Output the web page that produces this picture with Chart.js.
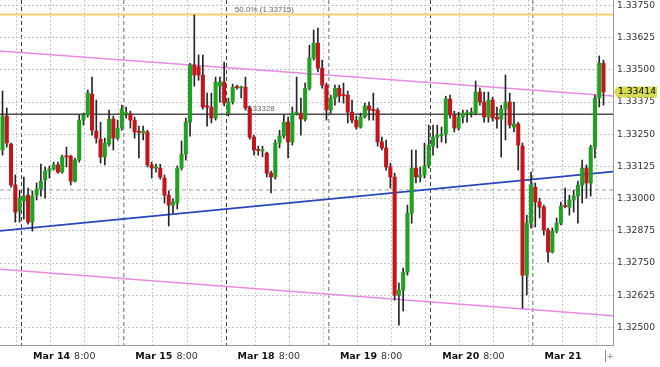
<!DOCTYPE html>
<html>
<head>
<meta charset="utf-8">
<script src="https://cdn.jsdelivr.net/npm/chart.js@4.4.1/dist/chart.umd.min.js"></script>
<style>
  html, body { margin: 0; padding: 0; background: #fff; }
</style>
</head>
<body>
<canvas id="chart" width="660" height="367"></canvas>
<script>
// hourly candles, last hours of Mar 13 up to Mar 21
const opens = [
  1.33189, 1.33321, 1.33212, 1.33053, 1.32952, 1.32991, 1.33014, 1.32909, 1.33014, 1.33037,
  1.33072, 1.33107, 1.33115, 1.33131, 1.33103, 1.33164, 1.33165, 1.33068, 1.33150, 1.33305,
  1.33325, 1.33406, 1.33263, 1.33231, 1.33162, 1.33212, 1.33309, 1.33235, 1.33274, 1.33329,
  1.33329, 1.33305, 1.33259, 1.33255, 1.33259, 1.33131, 1.33119, 1.33119, 1.33080, 1.33014,
  1.32975, 1.32983, 1.33119, 1.33173, 1.33297, 1.33519, 1.33511, 1.33480, 1.33360, 1.33356,
  1.33313, 1.33437, 1.33453, 1.33332, 1.33375, 1.33433, 1.33429, 1.33433, 1.33352, 1.33239,
  1.33189, 1.33185, 1.33177, 1.33099, 1.33084, 1.33216, 1.33243, 1.33297, 1.33220, 1.33332,
  1.33332, 1.33309, 1.33429, 1.33546, 1.33604, 1.33507, 1.33441, 1.33344, 1.33391, 1.33429,
  1.33402, 1.33402, 1.33336, 1.33305, 1.33278, 1.33317, 1.33360, 1.33344, 1.33344, 1.33220,
  1.33197, 1.33123, 1.33084, 1.32626, 1.32645, 1.32715, 1.32944, 1.33119, 1.33084, 1.33092,
  1.33127, 1.33204, 1.33239, 1.33245, 1.33251, 1.33387, 1.33325, 1.33274, 1.33317, 1.33329,
  1.33332, 1.33332, 1.33414, 1.33375, 1.33317, 1.33383, 1.33317, 1.33309, 1.33348, 1.33375,
  1.33278, 1.33290, 1.33204, 1.32703, 1.32905, 1.33045, 1.32987, 1.32967, 1.32878, 1.32793,
  1.32874, 1.32905, 1.32971, 1.32967, 1.32995, 1.33010, 1.33053, 1.33119, 1.33061, 1.33200,
  1.33391, 1.33526
];
const highs = [
  1.33418, 1.33352, 1.33216, 1.33092, 1.33033, 1.33084, 1.33041, 1.33030, 1.33061, 1.33134,
  1.33123, 1.33127, 1.33142, 1.33142, 1.33169, 1.33200, 1.33169, 1.33158, 1.33325, 1.33332,
  1.33422, 1.33472, 1.33383, 1.33297, 1.33235, 1.33344, 1.33321, 1.33305, 1.33363, 1.33356,
  1.33340, 1.33317, 1.33282, 1.33282, 1.33266, 1.33142, 1.33134, 1.33134, 1.33092, 1.33030,
  1.32999, 1.33127, 1.33224, 1.33313, 1.33526, 1.33713, 1.33558, 1.33558, 1.33410, 1.33410,
  1.33472, 1.33472, 1.33530, 1.33391, 1.33445, 1.33441, 1.33437, 1.33472, 1.33360, 1.33247,
  1.33204, 1.33204, 1.33181, 1.33107, 1.33228, 1.33266, 1.33325, 1.33317, 1.33356, 1.33472,
  1.33391, 1.33449, 1.33596, 1.33655, 1.33662, 1.33538, 1.33449, 1.33402, 1.33441, 1.33441,
  1.33449, 1.33418, 1.33383, 1.33321, 1.33332, 1.33371, 1.33375, 1.33410, 1.33352, 1.33239,
  1.33228, 1.33138, 1.33099, 1.32672, 1.32731, 1.32975, 1.33189, 1.33189, 1.33123, 1.33216,
  1.33286, 1.33286, 1.33286, 1.33278, 1.33398, 1.33402, 1.33340, 1.33336, 1.33344, 1.33344,
  1.33352, 1.33457, 1.33429, 1.33414, 1.33414, 1.33394, 1.33356, 1.33363, 1.33480, 1.33410,
  1.33375, 1.33297, 1.33216, 1.32936, 1.33103, 1.33061, 1.33002, 1.32975, 1.32886, 1.32886,
  1.32925, 1.32987, 1.33041, 1.33014, 1.33033, 1.33068, 1.33150, 1.33131, 1.33208, 1.33402,
  1.33554, 1.33538
];
const lows = [
  1.33169, 1.33200, 1.33045, 1.32909, 1.32909, 1.32921, 1.32901, 1.32874, 1.32995, 1.33010,
  1.33002, 1.33080, 1.33111, 1.33099, 1.33099, 1.33123, 1.33053, 1.33065, 1.33142, 1.33286,
  1.33317, 1.33247, 1.33216, 1.33138, 1.33131, 1.33204, 1.33189, 1.33228, 1.33266, 1.33313,
  1.33274, 1.33235, 1.33158, 1.33228, 1.33123, 1.33080, 1.33103, 1.33076, 1.32983, 1.32894,
  1.32944, 1.32960, 1.33111, 1.33150, 1.33243, 1.33437, 1.33460, 1.33348, 1.33282, 1.33294,
  1.33305, 1.33375, 1.33360, 1.33321, 1.33367, 1.33425, 1.33391, 1.33344, 1.33231, 1.33169,
  1.33169, 1.33162, 1.33084, 1.33022, 1.33076, 1.33197, 1.33235, 1.33158, 1.33208, 1.33325,
  1.33247, 1.33301, 1.33422, 1.33538, 1.33492, 1.33429, 1.33305, 1.33332, 1.33363, 1.33375,
  1.33371, 1.33294, 1.33294, 1.33270, 1.33274, 1.33313, 1.33305, 1.33305, 1.33204, 1.33189,
  1.33111, 1.33041, 1.32606, 1.32509, 1.32564, 1.32703, 1.32905, 1.33061, 1.33065, 1.33080,
  1.33119, 1.33169, 1.33197, 1.33220, 1.33216, 1.33313, 1.33259, 1.33266, 1.33294, 1.33297,
  1.33317, 1.33325, 1.33363, 1.33297, 1.33297, 1.33301, 1.33274, 1.33162, 1.33228, 1.33274,
  1.33259, 1.33111, 1.32575, 1.32626, 1.32886, 1.32890, 1.32925, 1.32859, 1.32754, 1.32789,
  1.32867, 1.32898, 1.32964, 1.32936, 1.32948, 1.32905, 1.32983, 1.33002, 1.33010, 1.33158,
  1.33356, 1.33363
];
const closes = [
  1.33321, 1.33216, 1.33053, 1.32948, 1.33002, 1.33010, 1.32909, 1.33010, 1.33037, 1.33068,
  1.33107, 1.33115, 1.33131, 1.33103, 1.33162, 1.33162, 1.33068, 1.33150, 1.33305, 1.33325,
  1.33410, 1.33266, 1.33235, 1.33162, 1.33216, 1.33309, 1.33235, 1.33274, 1.33348, 1.33332,
  1.33305, 1.33259, 1.33257, 1.33263, 1.33131, 1.33119, 1.33121, 1.33084, 1.33014, 1.32975,
  1.32987, 1.33119, 1.33173, 1.33297, 1.33519, 1.33480, 1.33480, 1.33356, 1.33356, 1.33313,
  1.33453, 1.33453, 1.33371, 1.33375, 1.33433, 1.33431, 1.33433, 1.33352, 1.33239, 1.33189,
  1.33187, 1.33189, 1.33099, 1.33084, 1.33216, 1.33243, 1.33297, 1.33220, 1.33332, 1.33334,
  1.33309, 1.33429, 1.33546, 1.33604, 1.33507, 1.33441, 1.33344, 1.33391, 1.33429, 1.33398,
  1.33400, 1.33336, 1.33305, 1.33278, 1.33317, 1.33360, 1.33344, 1.33342, 1.33220, 1.33197,
  1.33123, 1.33084, 1.32626, 1.32645, 1.32715, 1.32944, 1.33119, 1.33084, 1.33092, 1.33127,
  1.33208, 1.33239, 1.33247, 1.33247, 1.33387, 1.33325, 1.33274, 1.33317, 1.33332, 1.33332,
  1.33336, 1.33414, 1.33375, 1.33317, 1.33383, 1.33313, 1.33309, 1.33348, 1.33375, 1.33286,
  1.33290, 1.33208, 1.32703, 1.32905, 1.33053, 1.32987, 1.32967, 1.32878, 1.32793, 1.32874,
  1.32905, 1.32971, 1.32969, 1.32995, 1.33010, 1.33053, 1.33119, 1.33061, 1.33200, 1.33391,
  1.33526, 1.33414
];

const days = ['Mar 14', 'Mar 15', 'Mar 18', 'Mar 19', 'Mar 20', 'Mar 21'];
const dayTimes = ['8:00', '8:00', '8:00', '8:00', '8:00', ''];
const dayStart = [5, 29, 53, 77, 101, 125]; // first candle of each day

const yTicks = [1.32500, 1.32625, 1.32750, 1.32875, 1.33000, 1.33125,
                1.33250, 1.33375, 1.33500, 1.33625, 1.33750];

// drawn objects
const upperChannel = [1.33573, 1.33399];
const lowerChannel = [1.32726, 1.32546];
const supportLine = [1.32875, 1.33105];
const fiboLevel = 1.33715;
const fiboText = '50.0% (1.33715)';
const pivotLevel = 1.33328;
const dashedLevel = 1.33034;

const xMin = -0.59, xMax = 143.23;
const yMin = 1.32432, yMax = 1.337714;

const UP = '#22a022';
const DOWN = '#c3161c';
const FONT = 'DejaVu Sans';

const idx = opens.map((_, i) => i);
const lastClose = closes[closes.length - 1];

function lineData(pair) {
    return [{ x: xMin, y: pair[0] }, { x: xMax, y: pair[1] }];
}

const overlay = {
    id: 'overlay',
    beforeDatasetsDraw(chart) {
        const { ctx, scales: { x, y } } = chart;
        ctx.save();
        ctx.font = '8px "Liberation Sans"';
        ctx.fillStyle = '#666';
        ctx.textAlign = 'left';
        ctx.textBaseline = 'alphabetic';
        ctx.fillText(fiboText, x.getPixelForValue(54.5), y.getPixelForValue(fiboLevel) - 3);
        ctx.fillText(pivotLevel.toFixed(5), x.getPixelForValue(57.1), y.getPixelForValue(pivotLevel) - 3);
        ctx.restore();
    },
    afterDraw(chart) {
        const { ctx, scales: { y } } = chart;
        const yp = y.getPixelForValue(lastClose);
        const x0 = y.left;
        ctx.save();
        ctx.fillStyle = '#d6db4f';
        ctx.beginPath();
        ctx.moveTo(x0 + 1, yp);
        ctx.lineTo(x0 + 4, yp - 5.5);
        ctx.lineTo(657, yp - 5.5);
        ctx.lineTo(657, yp + 5.5);
        ctx.lineTo(x0 + 4, yp + 5.5);
        ctx.closePath();
        ctx.fill();
        ctx.fillStyle = '#000';
        ctx.font = '9.2px "' + FONT + '"';
        ctx.textBaseline = 'middle';
        ctx.fillText(lastClose.toFixed(5), x0 + 5, yp);
        // chart shift marker
        ctx.fillStyle = '#888';
        ctx.font = '9px "' + FONT + '"';
        ctx.textAlign = 'center';
        ctx.fillText('+', x0 - 3, 357);
        ctx.fillRect(x0 - 8, 350, 1, 12);
        ctx.restore();
    }
};

new Chart(document.getElementById('chart'), {
    type: 'bar',
    data: {
        datasets: [
            {
                label: 'body',
                data: idx.map(i => ({ x: i, y: [opens[i], closes[i]] })),
                backgroundColor: idx.map(i => closes[i] >= opens[i] ? UP : DOWN),
                barThickness: 3.4,
                minBarLength: 1.2,
                grouped: false,
                order: 1
            },
            {
                label: 'wick',
                data: idx.map(i => ({ x: i, y: [lows[i], highs[i]] })),
                backgroundColor: '#262626',
                barThickness: 1,
                grouped: false,
                order: 2
            },
            {
                type: 'line', label: 'channel top', data: lineData(upperChannel),
                borderColor: '#e58be5', borderWidth: 1.5, pointRadius: 0, order: 3
            },
            {
                type: 'line', label: 'channel bottom', data: lineData(lowerChannel),
                borderColor: '#e58be5', borderWidth: 1.5, pointRadius: 0, order: 3
            },
            {
                type: 'line', label: 'support', data: lineData(supportLine),
                borderColor: '#2747b8', borderWidth: 1.6, pointRadius: 0, order: 3
            },
            {
                type: 'line', label: 'fibo 50%', data: lineData([fiboLevel, fiboLevel]),
                borderColor: '#f7cf6a', borderWidth: 2, pointRadius: 0, order: 3
            },
            {
                type: 'line', label: 'level', data: lineData([pivotLevel, pivotLevel]),
                borderColor: '#4d4d4d', borderWidth: 1.6, pointRadius: 0, order: 3
            },
            {
                type: 'line', label: 'dashed', data: lineData([dashedLevel, dashedLevel]),
                borderColor: '#9c9c9c', borderWidth: 1, borderDash: [4, 3], pointRadius: 0, order: 3
            }
        ]
    },
    options: {
        responsive: false,
        animation: false,
        devicePixelRatio: 1,
        events: [],
        layout: { padding: 0, autoPadding: false },
        plugins: { legend: { display: false }, tooltip: { enabled: false } },
        scales: {
            x: {
                type: 'linear', position: 'bottom', weight: 1,
                min: xMin, max: xMax, offset: false,
                grid: { display: false, drawTicks: false, offset: false },
                border: { display: true, color: '#9a9a9a' },
                afterBuildTicks: s => { s.ticks = dayStart.map(d => ({ value: d + 2.16 })); },
                ticks: {
                    align: 'start', padding: 6, color: '#111', autoSkip: false, maxRotation: 0,
                    font: { family: FONT, size: 9.5, weight: 'bold' },
                    callback: (v, i) => days[i]
                },
                afterFit: s => { s.height = 22; s.paddingLeft = 0; s.paddingRight = 0; }
            },
            xt: {
                type: 'linear', position: 'bottom', weight: 0,
                min: xMin, max: xMax, offset: false,
                grid: { display: false, drawTicks: false, offset: false },
                border: { display: false },
                afterBuildTicks: s => { s.ticks = dayStart.map(d => ({ value: d + 11.8 })); },
                ticks: {
                    align: 'start', mirror: true, padding: -17.4, color: '#333',
                    autoSkip: false, maxRotation: 0,
                    font: { family: FONT, size: 9.5 },
                    callback: (v, i) => dayTimes[i]
                },
                afterFit: s => { s.height = 0; s.paddingLeft = 0; s.paddingRight = 0; }
            },
            xg: {
                type: 'linear', position: 'bottom', weight: 0,
                min: xMin, max: xMax, offset: false,
                grid: { color: '#c6c6c6', drawTicks: false, offset: false },
                border: { display: false, dash: [2, 2] },
                afterBuildTicks: s => {
                    const t = [];
                    for (let v = dayStart[0] - 1.7; v < xMax; v += 8) t.push({ value: v });
                    s.ticks = t;
                },
                ticks: { display: false },
                afterFit: s => { s.height = 0; s.paddingLeft = 0; s.paddingRight = 0; }
            },
            xs: {
                type: 'linear', position: 'bottom', weight: 0,
                min: xMin, max: xMax, offset: false,
                grid: {
                    drawTicks: false, offset: false,
                    color: c => (c.index % 2 ? '#999999' : '#404040'),
                    lineWidth: c => (c.index % 2 ? 1.5 : 1)
                },
                border: { display: false, dash: [4, 3] },
                afterBuildTicks: s => { s.ticks = dayStart.map(d => ({ value: d - 0.5 })); },
                ticks: { display: false },
                afterFit: s => { s.height = 0; s.paddingLeft = 0; s.paddingRight = 0; }
            },
            y: {
                type: 'linear', position: 'right',
                min: yMin, max: yMax,
                grid: { color: '#c6c6c6', drawTicks: false },
                border: { display: true, color: '#9a9a9a', dash: [2, 2] },
                afterBuildTicks: s => { s.ticks = yTicks.map(v => ({ value: v })); },
                ticks: {
                    padding: 4, color: '#333', autoSkip: false,
                    font: { family: FONT, size: 9.2 },
                    callback: v => v.toFixed(5)
                },
                afterFit: s => { s.width = 47; s.paddingTop = 0; s.paddingBottom = 0; }
            }
        }
    },
    plugins: [overlay]
});
</script>
</body>
</html>
